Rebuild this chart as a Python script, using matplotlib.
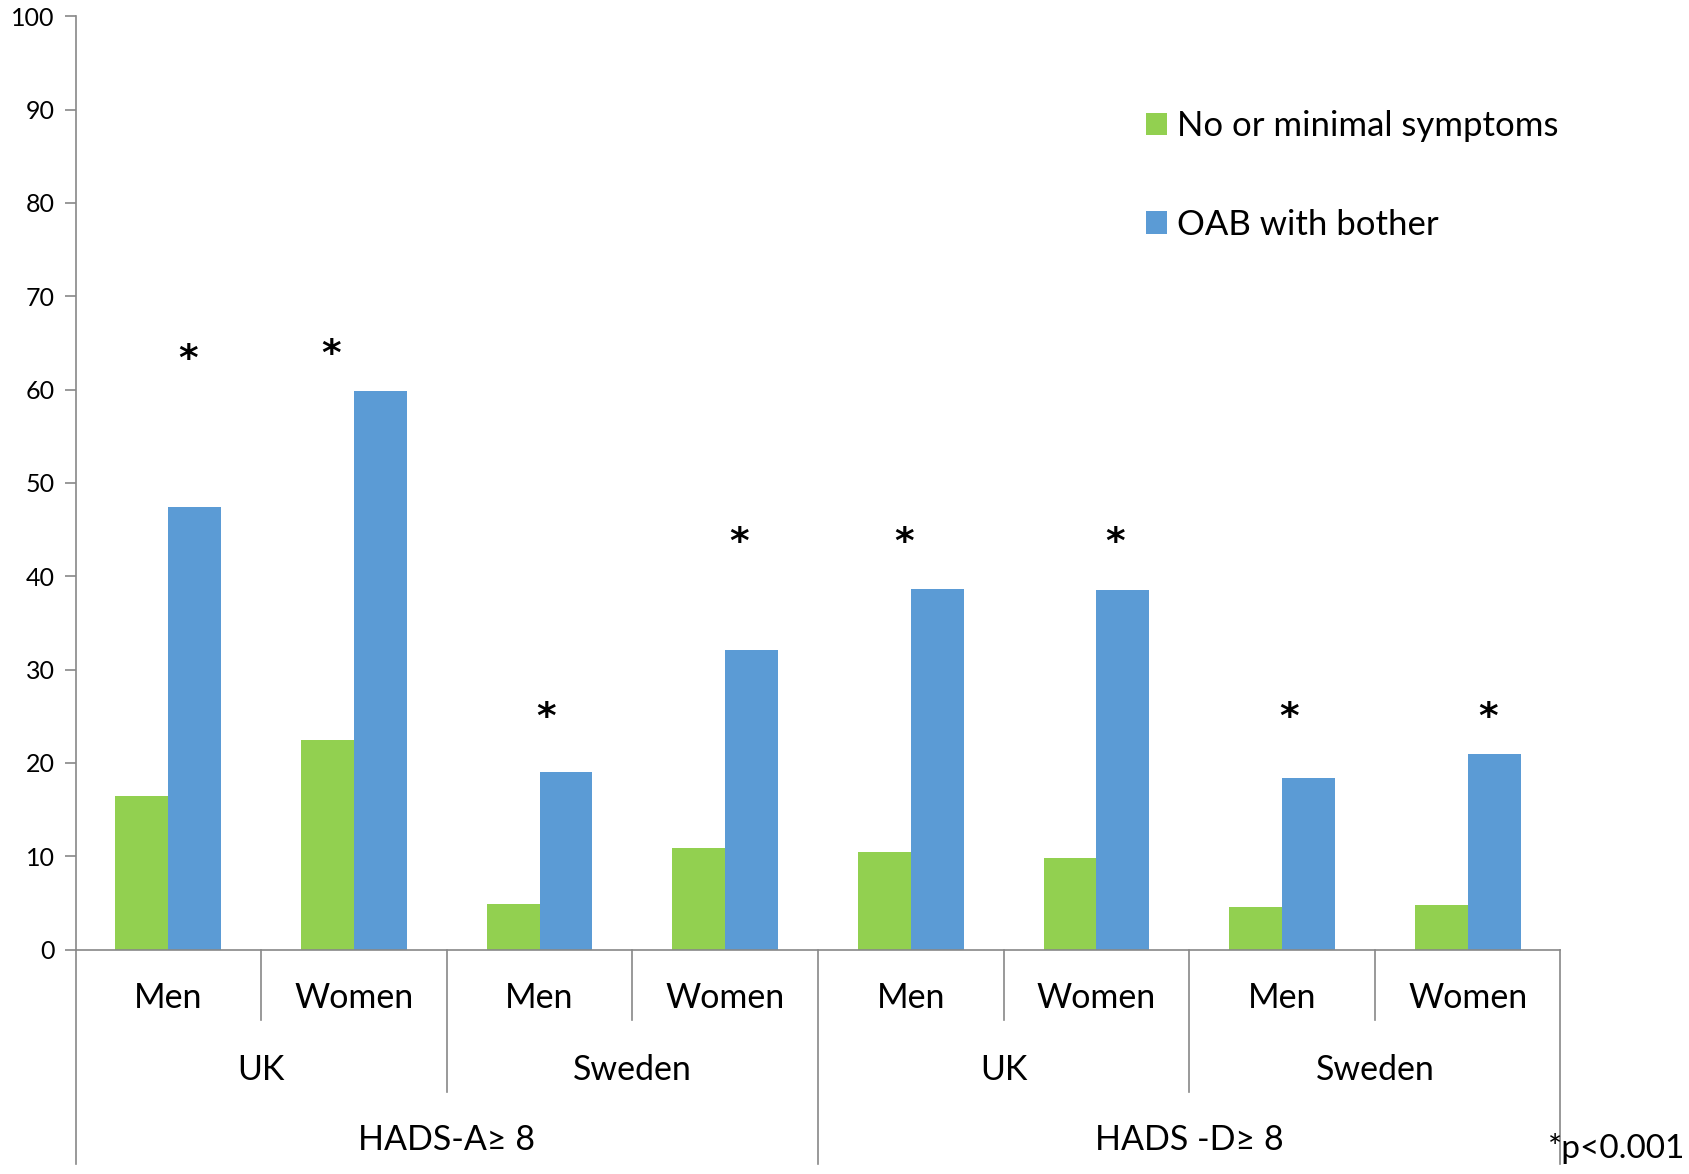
import matplotlib
matplotlib.use("Agg")
import matplotlib.pyplot as plt
import matplotlib.transforms as mtransforms
import numpy as np

plt.rcParams['font.family'] = ['Lato', 'DejaVu Sans']

# Data
sexes = ["Men", "Women", "Men", "Women", "Men", "Women", "Men", "Women"]
countries = ["UK", "Sweden", "UK", "Sweden"]
scales = ["HADS-A\u2265 8", "HADS -D\u2265 8"]
no_symptoms = [16.5, 22.4, 4.9, 10.9, 10.4, 9.8, 4.6, 4.8]
oab_bother = [47.4, 59.8, 19.0, 32.1, 38.6, 38.5, 18.4, 21.0]
series_names = ["No or minimal symptoms", "OAB with bother"]
yticks = list(range(0, 101, 10))

# Significance markers (offset within category, height)
star_dx = [0.107, -0.121, 0.035, 0.074, -0.037, 0.10, 0.04, 0.11]
star_y = [63.9, 64.5, 25.6, 44.3, 44.3, 44.3, 25.6, 25.6]

green = "#92D050"
blue = "#5B9BD5"
axis_grey = "#888888"

W, H = 1690, 1174
fig = plt.figure(figsize=(W / 100, H / 100), dpi=100)
left, right, top, bottom = 75.5, 1560.5, 16.2, 949.5
ax = fig.add_axes([left / W, 1 - bottom / H, (right - left) / W, (bottom - top) / H])

x = np.arange(len(sexes))
bw = 0.285
ax.bar(x - bw / 2, no_symptoms, bw, color=green, label=series_names[0], zorder=2)
ax.bar(x + bw / 2, oab_bother, bw, color=blue, label=series_names[1], zorder=2)

ax.set_xlim(-0.5, len(sexes) - 0.5)
ax.set_ylim(0, 100)
ax.set_yticks(yticks)
ax.tick_params(axis='y', direction='out', length=8, width=1.2, color=axis_grey,
               labelsize=18, pad=7)
ax.set_xticks([])
for s in ["top", "right"]:
    ax.spines[s].set_visible(False)
for s in ["left", "bottom"]:
    ax.spines[s].set_color(axis_grey)
    ax.spines[s].set_linewidth(1.2)

# Significance asterisks, centred on the given heights
star_fs = 27
star_trans = mtransforms.offset_copy(ax.transData, fig=fig, y=-0.455 * star_fs, units='points')
for i, (dx, yy) in enumerate(zip(star_dx, star_y)):
    ax.text(i + dx, yy, "*", ha="center", va="baseline", fontsize=star_fs,
            family="DejaVu Sans", fontweight="bold", color="black",
            transform=star_trans)

# Multi-level category axis
trans = ax.get_xaxis_transform()
def vline(xpos, depth):
    ax.plot([xpos, xpos], [0, depth], transform=trans, color=axis_grey, lw=1.2,
            clip_on=False)

y_sex, y_country, y_scale = -0.0520, -0.1291, -0.2041
d_sex, d_country, d_scale = -0.0751, -0.1527, -0.2298

for b in [0.5, 2.5, 4.5, 6.5]:
    vline(b, d_sex)
for b in [1.5, 5.5]:
    vline(b, d_country)
for b in [-0.5, 3.5, 7.5]:
    vline(b, d_scale)

lab_fs = 24.5
for i, s in enumerate(sexes):
    ax.text(i, y_sex, s, transform=trans, ha="center", va="center", fontsize=lab_fs)
for j, c in enumerate(countries):
    ax.text(2 * j + 0.5, y_country, c, transform=trans, ha="center", va="center", fontsize=lab_fs)
for k, sc in enumerate(scales):
    ax.text(4 * k + 1.5, y_scale, sc, transform=trans, ha="center", va="center", fontsize=lab_fs)

# Footnote
fig.text(1548 / W, 1 - 1148 / H, "*p<0.001", ha="left", va="center", fontsize=24)

leg = ax.legend(loc="upper left", bbox_to_anchor=(1146 / W, 1 - 110 / H),
                bbox_transform=fig.transFigure, frameon=False, fontsize=25,
                handlelength=0.605, handleheight=0.605, handletextpad=0.3,
                labelspacing=1.92, borderpad=0, borderaxespad=0)

fig.savefig("out.png", dpi=100, facecolor="white")
